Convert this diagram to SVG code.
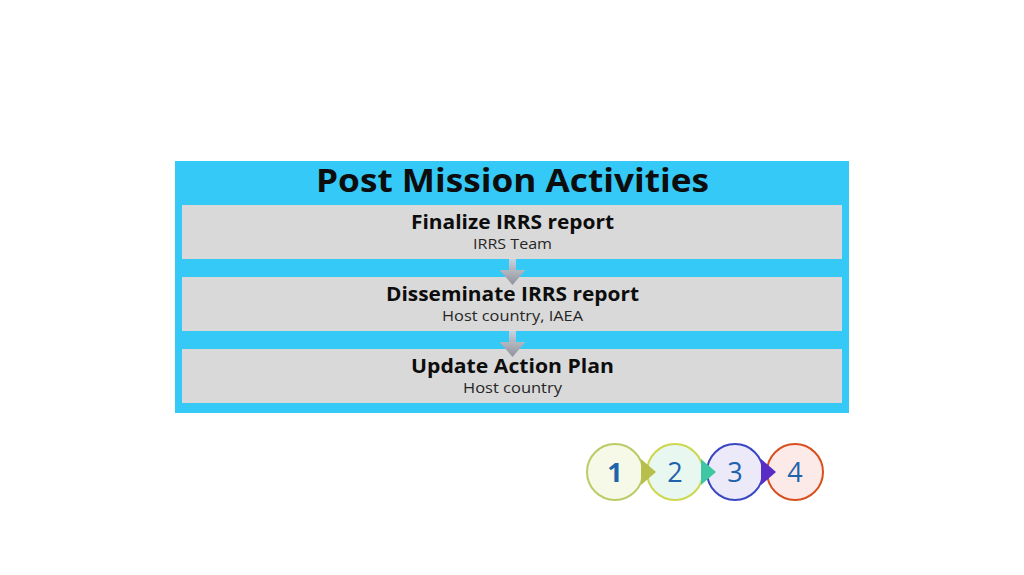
<svg xmlns="http://www.w3.org/2000/svg" width="1024" height="575" viewBox="0 0 1024 575">
<defs>
<style>
.box{fill:#D9D9D9}
.ttl{font-family:"Open Sans","Liberation Sans",sans-serif;font-weight:bold;fill:#0D0D0D;text-anchor:middle}
.sub{font-family:"Open Sans","Liberation Sans",sans-serif;fill:#262626;text-anchor:middle}
.num{font-family:"Open Sans","Liberation Sans",sans-serif;font-size:27px;fill:#1F63AC;text-anchor:middle}
</style>
<linearGradient id="shaft" x1="0" y1="0" x2="0" y2="1">
<stop offset="0" stop-color="#C9D3E0"/>
<stop offset="1" stop-color="#A7AFBA"/>
</linearGradient>
<linearGradient id="head" x1="0" y1="0" x2="0" y2="1">
<stop offset="0" stop-color="#B4B8C0"/>
<stop offset="1" stop-color="#8E929A"/>
</linearGradient>
<g id="arr">
<rect x="-3.5" y="0" width="7" height="13" fill="url(#shaft)"/>
<polygon points="-13,11 13,11 0,26" fill="url(#head)"/>
</g>
</defs>
<rect width="1024" height="575" fill="#FFFFFF"/>
<g id="panel">
<rect x="175" y="161" width="674" height="252" fill="#35C9F7"/>
<text class="ttl" x="512.5" y="192" font-size="33" textLength="393" lengthAdjust="spacingAndGlyphs">Post Mission Activities</text>
</g>
<g id="step1">
<rect class="box" x="182" y="205" width="660" height="54"/>
<text class="ttl" x="512.5" y="229" font-size="19" textLength="203" lengthAdjust="spacingAndGlyphs">Finalize IRRS report</text>
<text class="sub" x="512.5" y="249" font-size="14" textLength="79" lengthAdjust="spacingAndGlyphs">IRRS Team</text>
</g>
<g id="step2">
<rect class="box" x="182" y="277" width="660" height="54"/>
<text class="ttl" x="512.5" y="301" font-size="19" textLength="253" lengthAdjust="spacingAndGlyphs">Disseminate IRRS report</text>
<text class="sub" x="512.5" y="321" font-size="14" textLength="141" lengthAdjust="spacingAndGlyphs">Host country, IAEA</text>
</g>
<g id="step3">
<rect class="box" x="182" y="349" width="660" height="54"/>
<text class="ttl" x="512.5" y="373" font-size="19" textLength="203" lengthAdjust="spacingAndGlyphs">Update Action Plan</text>
<text class="sub" x="512.5" y="393" font-size="14" textLength="99" lengthAdjust="spacingAndGlyphs">Host country</text>
</g>
<g id="connectors">
<use href="#arr" x="512.5" y="259"/>
<use href="#arr" x="512.5" y="331"/>
</g>
<g id="progress">
<g id="c1">
<circle cx="615" cy="472" r="28" fill="#F6F9E8" stroke="#BCCB66" stroke-width="2"/>
<text class="num" x="615" y="482" font-weight="bold">1</text>
</g>
<g id="c2">
<circle cx="675" cy="472" r="28" fill="#E9F7F1" stroke="#CDD74E" stroke-width="2"/>
<text class="num" x="675" y="482">2</text>
</g>
<g id="c3">
<circle cx="735" cy="472" r="28" fill="#ECEAF8" stroke="#3A47C4" stroke-width="2"/>
<text class="num" x="735" y="482">3</text>
</g>
<g id="c4">
<circle cx="795" cy="472" r="28" fill="#FBEAE8" stroke="#D9501F" stroke-width="2"/>
<text class="num" x="795" y="482">4</text>
</g>
<polygon points="641,459 656,472 641,485" fill="#B7BE4C"/>
<polygon points="701,459 716,472 701,485" fill="#3EC7A2"/>
<polygon points="761,459 776,472 761,485" fill="#5A2CC6"/>
</g>
</svg>
